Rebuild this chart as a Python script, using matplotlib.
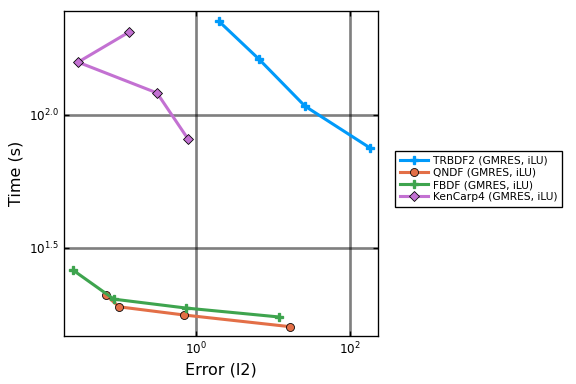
import matplotlib
matplotlib.use("Agg")
import matplotlib.pyplot as plt

# work-precision data (error l2 vs time s)
trbdf2_err = [1.99, 6.6, 26.0, 182.0]
trbdf2_time = [225.0, 162.0, 108.0, 75.2]

qndf_err = [0.068, 0.100, 0.70, 16.6]
qndf_time = [21.0, 19.0, 17.7, 16.0]

fbdf_err = [0.0253, 0.086, 0.74, 12.0]
fbdf_time = [26.1, 20.3, 18.8, 17.4]

kencarp4_err = [0.135, 0.0294, 0.312, 0.787]
kencarp4_time = [205.0, 158.0, 121.0, 81.3]

labels = ["TRBDF2 (GMRES, iLU)", "QNDF (GMRES, iLU)",
          "FBDF (GMRES, iLU)", "KenCarp4 (GMRES, iLU)"]
colors = ["#009AFA", "#E36F47", "#3EA44E", "#C371D2"]

fig = plt.figure(figsize=(6, 4), dpi=96)
ax = fig.add_axes([64/576, 1-336/384, (378-64)/576, (336-11)/384])

lw = 2.3
ax.plot(trbdf2_err, trbdf2_time, color=colors[0], lw=lw, marker="P", ms=6,
        mec=colors[0], label=labels[0])
ax.plot(qndf_err, qndf_time, color=colors[1], lw=lw, marker="o", ms=6,
        mec="black", mew=0.6, label=labels[1])
ax.plot(fbdf_err, fbdf_time, color=colors[2], lw=lw, marker="P", ms=6,
        mec=colors[2], label=labels[2])
ax.plot(kencarp4_err, kencarp4_time, color=colors[3], lw=lw, marker="D", ms=5,
        mec="black", mew=0.6, label=labels[3])

ax.set_xscale("log")
ax.set_yscale("log")
ax.set_xlim(10**-1.714, 10**2.364)
ax.set_ylim(10**1.169, 10**2.391)

ax.set_xticks([1, 100])
ax.set_xticklabels([r"$10^{0}$", r"$10^{2}$"])
ax.set_yticks([10**1.5, 10**2.0])
ax.set_yticklabels([r"$10^{1.5}$", r"$10^{2.0}$"])
ax.minorticks_off()
ax.tick_params(labelsize=9, direction="in", length=4, width=1, top=True, right=True,
               labeltop=False, labelright=False)

ax.grid(True, color="black", alpha=0.5, lw=2)
for s in ax.spines.values():
    s.set_linewidth(1)
    s.set_color("black")

ax.set_xlabel("Error (l2)", fontsize=12)
ax.set_ylabel("Time (s)", fontsize=12)

fig.legend(loc="upper left", bbox_to_anchor=(395/576, 1-151/384), fontsize=8,
           fancybox=False, edgecolor="black", framealpha=1, borderpad=0.45,
           labelspacing=0.2, handlelength=2.6, handletextpad=0.5, borderaxespad=0)

fig.savefig("out.png", dpi=96)
